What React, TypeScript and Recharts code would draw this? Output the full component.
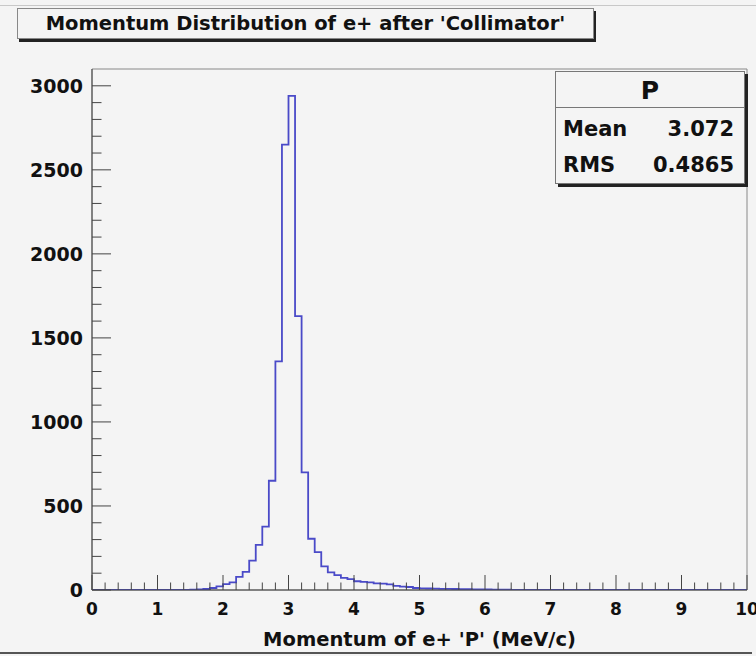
import React from 'react';
import { LineChart, Line, XAxis, YAxis, ReferenceArea } from 'recharts';

// Histogram: 100 bins of width 0.1 from 0 to 10 (MeV/c)
const BIN_WIDTH = 0.1;
const COUNTS: number[] = [
  0, 0, 0, 0, 0, 0, 0, 0, 0, 0,
  0, 0, 0, 0, 1, 2, 3, 6, 12, 22,
  35, 45, 78, 108, 175, 268, 377, 650, 1360, 2650,
  2940, 1630, 700, 305, 225, 140, 105, 88, 72, 65,
  52, 48, 45, 40, 38, 34, 25, 20, 18, 12,
  10, 9, 8, 7, 7, 6, 5, 5, 4, 3,
  3, 2, 2, 2, 1, 1, 1, 1, 0, 0,
  0, 0, 1, 0, 0, 0, 0, 0, 0, 0,
  0, 0, 0, 0, 0, 0, 0, 0, 0, 0,
  0, 0, 0, 0, 0, 0, 0, 0, 0, 0,
];
const X_TICKS: number[] = [
  0, 0.2, 0.4, 0.6, 0.8, 1, 1.2, 1.4, 1.6, 1.8, 2, 2.2, 2.4, 2.6, 2.8, 3, 3.2, 3.4, 3.6, 3.8,
  4, 4.2, 4.4, 4.6, 4.8, 5, 5.2, 5.4, 5.6, 5.8, 6, 6.2, 6.4, 6.6, 6.8, 7, 7.2, 7.4, 7.6, 7.8,
  8, 8.2, 8.4, 8.6, 8.8, 9, 9.2, 9.4, 9.6, 9.8, 10,
];
const Y_TICKS: number[] = [
  0, 100, 200, 300, 400, 500, 600, 700, 800, 900, 1000, 1100, 1200, 1300, 1400, 1500,
  1600, 1700, 1800, 1900, 2000, 2100, 2200, 2300, 2400, 2500, 2600, 2700, 2800, 2900, 3000,
];
const TITLE = "Momentum Distribution of e+ after 'Collimator'";
const X_TITLE = "Momentum of e+ 'P' (MeV/c)";
const STATS_NAME = 'P';
const STATS_ROWS: [string, string][] = [
  ['Mean', '3.072'],
  ['RMS', '0.4865'],
];

const data = [
  ...COUNTS.map((c, i) => ({ x: i * BIN_WIDTH, y: c })),
  { x: COUNTS.length * BIN_WIDTH, y: COUNTS[COUNTS.length - 1] },
];

const FONT = '"DejaVu Sans", "Liberation Sans", Arial, sans-serif';
const BG = '#f4f4f4';
const AXIS = '#444';

const XTick = (props: any) => {
  const { x, y, payload } = props;
  const v = payload.value as number;
  const major = Math.abs(v - Math.round(v)) < 1e-6;
  return (
    <g>
      <line x1={x} y1={y} x2={x} y2={y - (major ? 15 : 7.5)} stroke={AXIS} strokeWidth={1} />
      {major && (
        <text x={x} y={y + 25} textAnchor="middle" fontFamily={FONT} fontWeight="bold" fontSize={17} fill="#111">
          {Math.round(v)}
        </text>
      )}
    </g>
  );
};

const YTick = (props: any) => {
  const { x, y, payload } = props;
  const v = payload.value as number;
  const major = v % 500 === 0;
  return (
    <g>
      <line x1={x} y1={y} x2={x + (major ? 19 : 9.5)} y2={y} stroke={AXIS} strokeWidth={1} />
      {major && (
        <text x={x - 9} y={y + 7} textAnchor="end" fontFamily={FONT} fontWeight="bold" fontSize={19} fill="#111">
          {v}
        </text>
      )}
    </g>
  );
};

export default function App() {
  return (
    <div
      style={{
        position: 'absolute',
        left: 0,
        top: 0,
        width: 756,
        height: 656,
        background: BG,
        overflow: 'hidden',
        fontFamily: FONT,
      }}
    >
      <div style={{ position: 'absolute', left: 0, top: 5, width: 756, height: 1, background: '#c8c8c8' }} />
      <div style={{ position: 'absolute', left: 0, top: 652, width: 752, height: 2, background: '#555' }} />
      <LineChart
        width={756}
        height={656}
        data={data}
        margin={{ top: 69, right: 9, bottom: 0, left: 0 }}
      >
        <XAxis
          dataKey="x"
          type="number"
          domain={[0, 10]}
          ticks={X_TICKS}
          interval={0}
          tickSize={0}
          tickMargin={0}
          tickLine={false}
          tick={<XTick />}
          height={66}
          axisLine={{ stroke: AXIS, strokeWidth: 1 }}
          allowDataOverflow
        />
        <YAxis
          type="number"
          domain={[0, 3100]}
          ticks={Y_TICKS}
          interval={0}
          tickSize={0}
          tickMargin={0}
          tickLine={false}
          tick={<YTick />}
          width={92}
          axisLine={{ stroke: AXIS, strokeWidth: 1 }}
          allowDataOverflow
        />
        <ReferenceArea
          x1={0}
          x2={10}
          y1={0}
          y2={3100}
          fill="none"
          stroke="#888"
          strokeWidth={1}
          ifOverflow="visible"
        />
        <Line
          dataKey="y"
          type="stepAfter"
          stroke="#4a4ac8"
          strokeWidth={1.8}
          dot={false}
          activeDot={false}
          isAnimationActive={false}
        />
      </LineChart>

      {/* Title box */}
      <div
        style={{
          position: 'absolute',
          left: 17,
          top: 8,
          width: 577,
          height: 31,
          boxSizing: 'border-box',
          border: '1px solid #888',
          background: BG,
          boxShadow: '2px 3px 0 #222',
          textAlign: 'center',
          fontWeight: 'bold',
          fontSize: 19.5,
          lineHeight: '30px',
          color: '#111',
          whiteSpace: 'nowrap',
        }}
      >
        {TITLE}
      </div>

      {/* Stats box */}
      <div
        style={{
          position: 'absolute',
          left: 555,
          top: 71,
          width: 190,
          height: 113,
          boxSizing: 'border-box',
          border: '1px solid #777',
          background: BG,
          boxShadow: '3px 3px 0 #222',
          color: '#111',
          fontWeight: 'bold',
        }}
      >
        <div
          style={{
            height: 35,
            borderBottom: '1px solid #777',
            textAlign: 'center',
            fontSize: 25,
            lineHeight: '38px',
          }}
        >
          {STATS_NAME}
        </div>
        <div style={{ height: 3 }} />
        {STATS_ROWS.map(([k, v]) => (
          <div
            key={k}
            style={{
              display: 'flex',
              justifyContent: 'space-between',
              padding: '0 10px 0 7px',
              height: 36,
              lineHeight: '36px',
              fontSize: 21,
            }}
          >
            <span>{k}</span>
            <span>{v}</span>
          </div>
        ))}
      </div>

      {/* X axis title */}
      <div
        style={{
          position: 'absolute',
          left: 92,
          width: 655,
          top: 628,
          textAlign: 'center',
          fontWeight: 'bold',
          fontSize: 19.5,
          lineHeight: '24px',
          color: '#111',
          whiteSpace: 'nowrap',
        }}
      >
        {X_TITLE}
      </div>
    </div>
  );
}
